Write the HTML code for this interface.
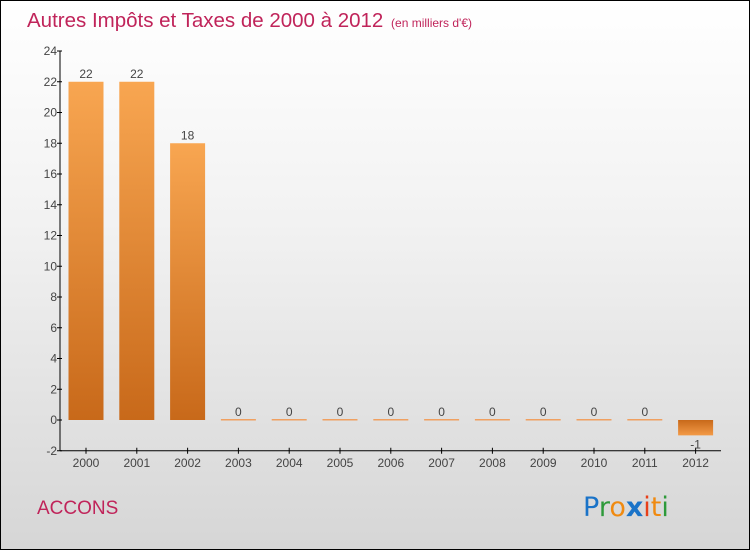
<!DOCTYPE html>
<html><head><meta charset="utf-8"><style>
body{margin:0}
#c{width:748px;height:548px;border:1px solid #000;background:linear-gradient(#fff,#f2f2f2 40%,#d6d6d6);position:relative;font-family:"Liberation Sans",sans-serif}
</style></head><body>
<div id="c">
<svg id="s" width="748" height="548" style="position:absolute;left:0;top:0">
<defs>
<linearGradient id="g" x1="0" y1="0" x2="0" y2="1"><stop offset="0" stop-color="#f8a651"/><stop offset="1" stop-color="#c8691a"/></linearGradient>
<linearGradient id="gn" x1="0" y1="0" x2="0" y2="1"><stop offset="0" stop-color="#c8691a"/><stop offset="1" stop-color="#f39a47"/></linearGradient>
</defs>
<text x="26" y="26" font-size="20.5" fill="#c0245a">Autres Impôts et Taxes de 2000 à 2012 <tspan font-size="12" dx="2">(en milliers d'€)</tspan></text>
<text x="36" y="513" font-size="19" fill="#c0245a">ACCONS</text>
<g font-size="27" font-family="DejaVu Sans, sans-serif">
<text x="582" y="515"><tspan fill="#1a73c8">P</tspan><tspan fill="#2e9a3a">r</tspan><tspan fill="#f08a10">o</tspan><tspan fill="#1a73c8" font-weight="bold">x</tspan><tspan fill="#e8401a">i</tspan><tspan fill="#f08a10">t</tspan><tspan fill="#2e9a3a">i</tspan></text>
</g>
<g id="ax"></g><g id="bars"></g>
</svg>
</div>
<script>
const years=["2000","2001","2002","2003","2004","2005","2006","2007","2008","2009","2010","2011","2012"];
const values=[22,22,18,0,0,0,0,0,0,0,0,0,-1];
const yTicks=[-2,0,2,4,6,8,10,12,14,16,18,20,22,24];
const NS="http://www.w3.org/2000/svg";
const y0=419,pu=15.375,xL=59,x0=85,step=50.8,bw=35;
const Y=v=>y0-v*pu, X=i=>x0+i*step;
const ax=document.getElementById('ax'),bars=document.getElementById('bars');
function mk(t,a,p){const e=document.createElementNS(NS,t);for(const k in a)e.setAttribute(k,a[k]);p.appendChild(e);return e;}
let l=mk('line',{x1:xL,y1:Y(24),x2:xL,y2:Y(-2),stroke:'#000'},ax);


l=mk('line',{x1:xL,y1:Y(-2),x2:720,y2:Y(-2),stroke:'#000'},ax);


yTicks.forEach(v=>{
 mk('line',{x1:xL-3,x2:xL+2,y1:Y(v),y2:Y(v),stroke:'#000'},ax);
 const t=mk('text',{x:xL-3,y:Y(v)+4,'text-anchor':'end','font-size':12,fill:'#444'},ax);t.textContent=v;
 
 
});
years.forEach((yr,i)=>{
 const cx=X(i),v=values[i];
 mk('line',{x1:cx,x2:cx,y1:Y(-2)-3,y2:Y(-2)+3,stroke:'#000'},ax);
 const t=mk('text',{x:cx,y:Y(-2)+16,'text-anchor':'middle','font-size':12,fill:'#444'},ax);t.textContent=yr;
 
 
 let r;
 if(v===0){r=mk('rect',{x:cx-bw/2,y:y0-1,width:bw,height:1.5,fill:'#f0a060'},bars);}
 else{const top=Math.min(Y(v),y0),h=Math.abs(Y(v)-y0);r=mk('rect',{x:cx-bw/2,y:top,width:bw,height:h,fill:v>0?'url(#g)':'url(#gn)'},bars);}
 
 
 const lb=mk('text',{x:cx,y:v>=0?Y(v)-4:Y(v)+13,'text-anchor':'middle','font-size':12,fill:'#444'},bars);lb.textContent=v;
 
 
});
</script>
</body></html>
